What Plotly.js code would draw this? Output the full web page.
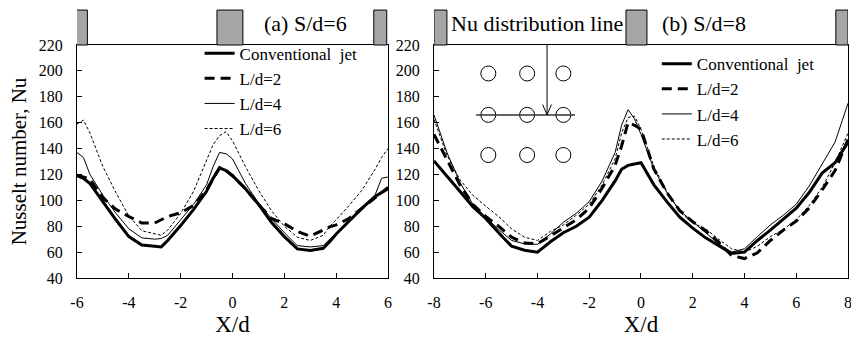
<!DOCTYPE html>
<html>
<head>
<meta charset="utf-8">
<script src="https://cdn.plot.ly/plotly-3.0.1.min.js"></script>
<style>html,body{margin:0;padding:0;background:#fff;}#chart{width:851px;height:337px;}</style>
</head>
<body>
<div id="chart"></div>
<script>
// ---- Panel (a) S/d=6 ----
const xA = [-6,-5.75,-5.5,-5,-4.5,-4,-3.5,-3,-2.75,-2.5,-2,-1.5,-1,-0.75,-0.5,-0.25,0,0.5,1,1.5,2,2.5,3,3.5,3.75,4,4.5,5,5.5,5.75,6];
const convA = [119,117,113,99,85,72,65.5,64.5,64,69,80.5,93,107,117,125,123,119,109,97,83,72,62.5,61.3,63,68,74,84,94,103,106,109];
const ld2A  = [119.5,118,116.5,102,93,87.5,82.5,82.5,85,87.5,90.5,96,108,116,125,123,119,109,97,86,82,76,72.3,77,79.5,81,86,94,102,106.5,110];
const ld4A  = [137,133,120,104,90,78,71,70,70.5,73,85,97,112,126,137,136,132,113,98,86,75,65,64,65,70,74.5,84,93,104,117,118];
const ld6A  = [159,162,152,126,106,88,76.5,74,73,77,90,107,132,143,150,153,146,126,108,92,80,71.5,69,73,80,85,96,108,124,133,140];

// ---- Panel (b) S/d=8 ----
const xB = [-8,-7.5,-7,-6.5,-6,-5.5,-5,-4.5,-4,-3.5,-3,-2.5,-2,-1.5,-1,-0.75,-0.5,-0.25,0,0.5,1,1.5,2,2.5,3,3.5,4,4.5,5,5.5,6,6.5,7,7.5,8];
const convB = [130.5,119,107,95,86,75,64.5,61.5,60,68,75,80,87,100,115,124,127,128,129,112,99,87,78.5,71,65,59,60,69,77,85.5,94,106,121,129,145];
const ld2B  = [151,131,112,97,87.5,80,71.5,67,66.5,72.5,79,85,94,109.5,127,142,160,158,155,124,106,92,83.5,76.5,67.7,57.4,55,59.5,69,77,84,94,108,123,147];
const ld4B  = [166,137,114,97,87,77.5,69,66.4,66,74,83,90,99,115,137,158,170,163,151,124,106,92,83.5,75,66.4,60,62.6,72,81,88.5,97,111,128,145,175];
const ld6B  = [162.6,135,116,104,95.5,87.5,78,71.5,69,76,81,88.5,97,112,132,152,164,165,155,126,107,91,82.5,78,70,62.6,60,64.5,72,77.5,85,96,110,129,152];

const seriesNames = ['Conventional\u00a0 jet','L/d=2','L/d=4','L/d=6'];

// ticks
const xTicksA = [-6,-4,-2,0,2,4,6];
const xTickTextA = ['-6','-4','-2','0','2','4','6'];
const xTicksB = [-8,-6,-4,-2,0,2,4,6,8];
const xTickTextB = ['-8','-6','-4','-2','0','2','4','6','8'];
const yTicks = [40,60,80,100,120,140,160,180,200,220];

// jet blocks drawn above each panel (X/d extents)
const jetsA = [[-6.05,-5.6],[-0.6,0.4],[5.45,5.95]];
const jetsB = [[-8,-7.5],[-0.58,0.23],[7.53,8]];

// inset sketch (panel b): jet holes and distribution line
const holeX = [-5.9,-4.4,-3.0,-5.9,-4.4,-3.0,-5.9,-4.4,-3.0];
const holeY = [198,198,198,166,166,166,135,135,135];
const lineX = [-6.37,-2.55];
const lineY = [166,166];
const arrowX = [-3.63,-3.63];
const arrowY = [220,166];
const headX = [-3.8,-3.63,-3.46];
const headY = [174,166,174];

const styles = [
  {color:'#000', width:3, dash:'solid'},
  {color:'#000', width:3, dash:'10px,6px'},
  {color:'#000', width:1, dash:'solid'},
  {color:'#000', width:1, dash:'3px,2px'}
];
const ysA = [convA, ld2A, ld4A, ld6A];
const ysB = [convB, ld2B, ld4B, ld6B];

const traces = [];
ysA.forEach((ys,i)=>traces.push({x:xA, y:ys, type:'scatter', mode:'lines', name:seriesNames[i],
  line:styles[i], xaxis:'x', yaxis:'y', legend:'legend', hoverinfo:'skip'}));
ysB.forEach((ys,i)=>traces.push({x:xB, y:ys, type:'scatter', mode:'lines', name:seriesNames[i],
  line:styles[i], xaxis:'x2', yaxis:'y2', legend:'legend2', hoverinfo:'skip'}));

traces.push({x:holeX, y:holeY, type:'scatter', mode:'markers', xaxis:'x2', yaxis:'y2', showlegend:false,
  marker:{symbol:'circle-open', size:15, color:'#000', line:{width:1, color:'#000'}}, hoverinfo:'skip'});
traces.push({x:lineX, y:lineY, type:'scatter', mode:'lines', xaxis:'x2', yaxis:'y2', showlegend:false,
  line:{color:'#333', width:1.5}, hoverinfo:'skip'});
traces.push({x:arrowX, y:arrowY, type:'scatter', mode:'lines', xaxis:'x2', yaxis:'y2', showlegend:false,
  line:{color:'#000', width:1}, hoverinfo:'skip', cliponaxis:false});
traces.push({x:headX, y:headY, type:'scatter', mode:'lines', xaxis:'x2', yaxis:'y2', showlegend:false,
  line:{color:'#000', width:1}, hoverinfo:'skip'});

const FONT = 'Liberation Serif';
function xax(domain, range, tv, tt, anchor){
  return {domain:domain, range:range, anchor:anchor, tickvals:tv, ticktext:tt, ticks:'inside', ticklen:5,
    tickcolor:'#000', showline:true, linecolor:'#000', linewidth:1, mirror:true, showgrid:false, zeroline:false,
    tickfont:{family:FONT, size:16, color:'#000'}, ticklabelstandoff:10, ticklabeloverflow:'allow',
    title:{text:'X/d', font:{family:FONT, size:23, color:'#000'}, standoff:6}};
}
function yax(anchor, withTitle){
  const a = {anchor:anchor, range:[40,220], tickvals:yTicks, ticks:'inside', ticklen:5, tickcolor:'#000',
    showline:true, linecolor:'#000', linewidth:1, mirror:true, showgrid:false, zeroline:false,
    tickfont:{family:FONT, size:16, color:'#000'}, ticklabelstandoff:10};
  if (withTitle) a.title = {text:'Nusselt number, Nu', font:{family:FONT, size:21, color:'#000'}, standoff:6};
  return a;
}

const shapes = [];
jetsA.forEach(j=>shapes.push({type:'rect', xref:'x', yref:'paper', x0:j[0], x1:j[1], y0:1, y1:1.15,
  fillcolor:'#a6a6a6', line:{color:'#000', width:1}, layer:'above'}));
jetsB.forEach(j=>shapes.push({type:'rect', xref:'x2', yref:'paper', x0:j[0], x1:j[1], y0:1, y1:1.15,
  fillcolor:'#a6a6a6', line:{color:'#000', width:1}, layer:'above'}));

const layout = {
  width:851, height:337,
  margin:{l:77, r:3, t:45, b:59},
  paper_bgcolor:'#fff', plot_bgcolor:'#fff',
  font:{family:FONT, color:'#000'},
  xaxis: xax([0,0.4034], [-6,6], xTicksA, xTickTextA, 'y'),
  yaxis: yax('x', true),
  xaxis2: xax([0.463,1], [-8,8], xTicksB, xTickTextB, 'y2'),
  yaxis2: yax('x2', false),
  legend:{x:0.159, y:1.04, xanchor:'left', yanchor:'top', bgcolor:'rgba(0,0,0,0)', font:{family:FONT, size:17, color:'#000'},
    tracegroupgap:0, itemwidth:30},
  legend2:{x:0.752, y:0.995, xanchor:'left', yanchor:'top', bgcolor:'rgba(0,0,0,0)', font:{family:FONT, size:17, color:'#000'},
    tracegroupgap:0, itemwidth:30},
  shapes:shapes,
  annotations:[
    {text:'(a) S/d=6', xref:'x', yref:'paper', x:2.8, y:1.094, yanchor:'middle', showarrow:false, font:{family:FONT, size:22, color:'#000'}},
    {text:'(b) S/d=8', xref:'x2', yref:'paper', x:2.43, y:1.094, yanchor:'middle', showarrow:false, font:{family:FONT, size:22, color:'#000'}},
    {text:'Nu distribution line', xref:'x2', yref:'paper', x:-4.0, y:1.094, yanchor:'middle', showarrow:false, font:{family:FONT, size:22, color:'#000'}}
  ],
  showlegend:true
};
Plotly.newPlot('chart', traces, layout, {staticPlot:true, displayModeBar:false});
</script>
</body>
</html>
